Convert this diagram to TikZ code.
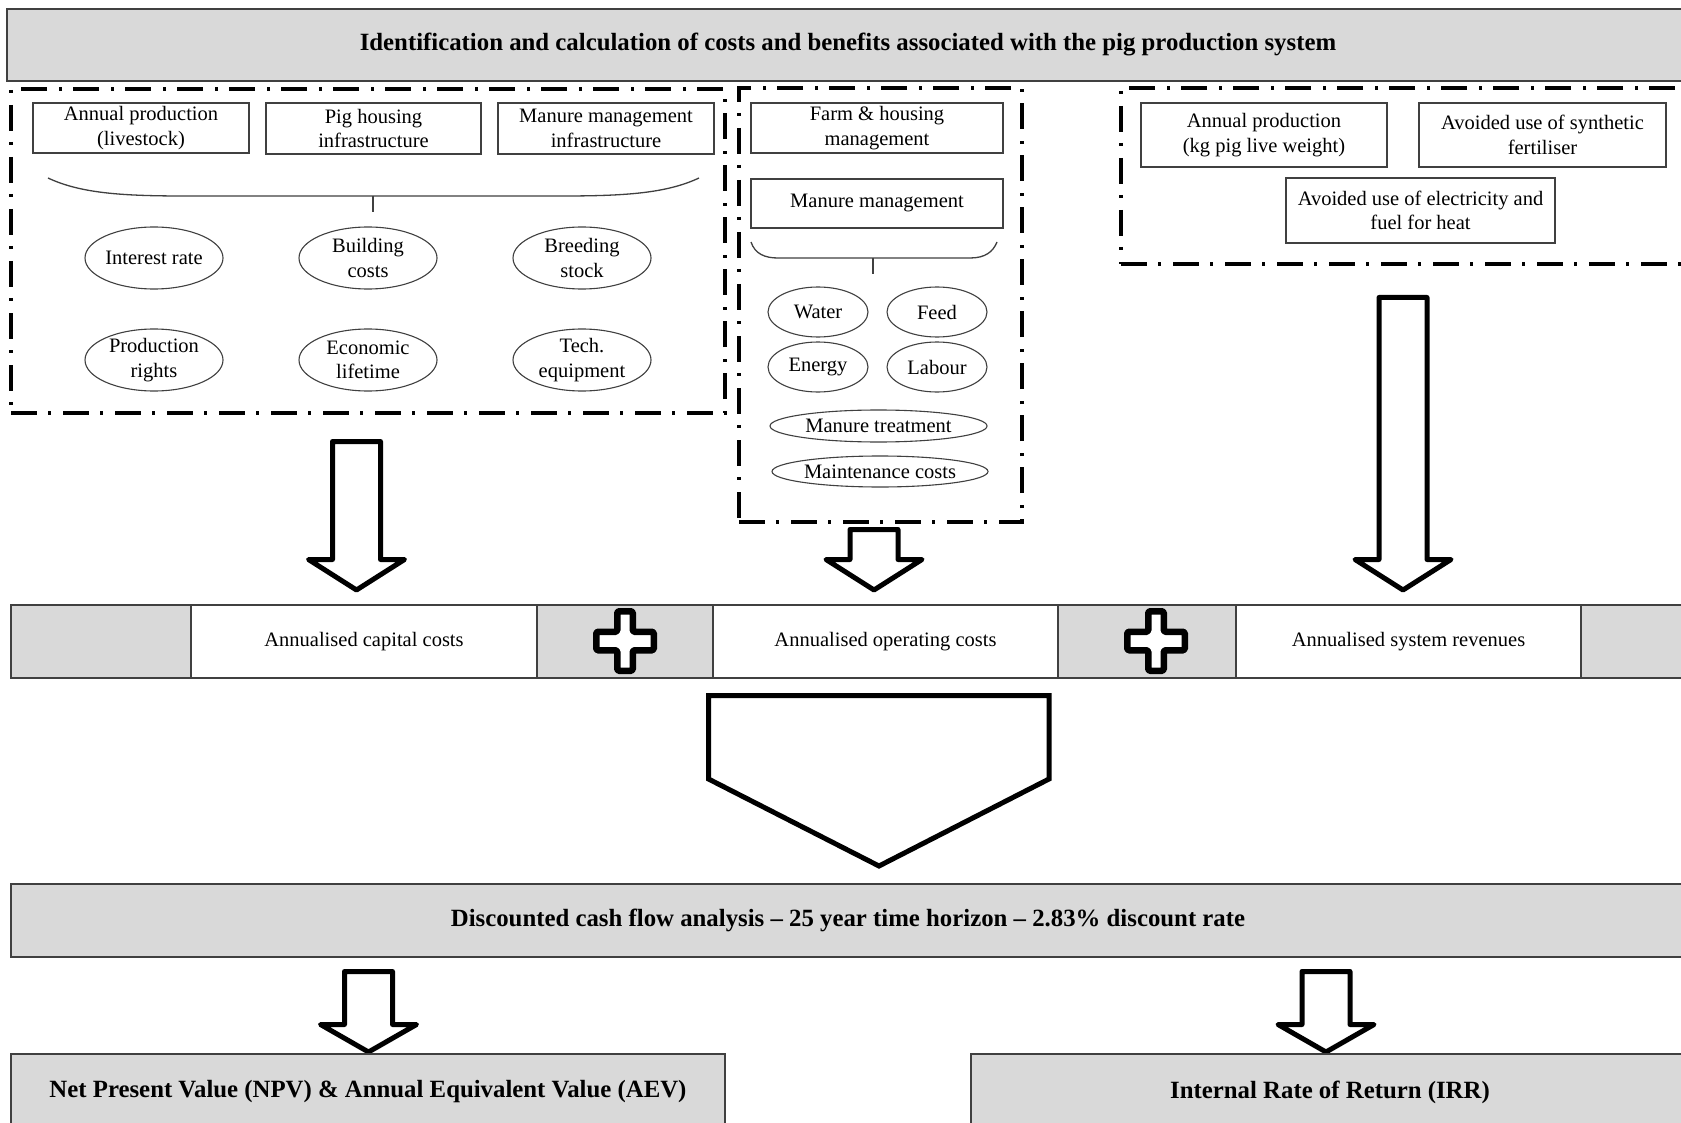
\documentclass[tikz,border=0pt]{standalone}
\usepackage{fontspec}
\setmainfont{Liberation Serif}
\usetikzlibrary{shapes.geometric}

\definecolor{bandgrey}{HTML}{D9D9D9}
\definecolor{edgegrey}{HTML}{404040}

\tikzset{
  every node/.style={font=\fontsize{20.5}{24.5}\selectfont, text=black},
  itembox/.style={draw=edgegrey, line width=1.3pt, fill=white, rectangle, inner sep=0pt, align=center},
  factor/.style={draw=edgegrey, line width=1.1pt, ellipse, inner sep=0pt, align=center},
  groupframe/.style={draw=black, line width=3.5pt, dash pattern=on 26pt off 11pt on 3pt off 12pt, rectangle, inner sep=0pt},
  greyband/.style={draw=edgegrey, line width=1.4pt, fill=bandgrey, rectangle, inner sep=0pt, align=center},
  heading/.style={font=\fontsize{24.8}{29}\selectfont\bfseries},
  sumbox/.style={draw=edgegrey, line width=1.4pt, fill=white, rectangle, inner sep=0pt},
  arrowbody/.style={draw=black, line width=5pt, fill=white, line join=round},
  plusbody/.style={draw=black, line width=6.5pt, fill=white, line join=round},
  bracestroke/.style={draw=edgegrey, line width=1.3pt},
}

% hollow block arrow pointing down: centre x, top, head base, tip
\newcommand{\downblock}[4]{%
  \draw[arrowbody] (#1-24,#2) -- (#1+24,#2) -- (#1+24,#3) -- (#1+48,#3) -- (#1,#4)
    -- (#1-48,#3) -- (#1-24,#3) -- cycle;}
% hollow plus sign: centre x, centre y
\newcommand{\hollowplus}[2]{%
  \draw[plusbody, rounded corners=1.5pt] (#1-7.75,#2-29.75) -- (#1+7.75,#2-29.75) -- (#1+7.75,#2-9.25)
    -- (#1+28.75,#2-9.25) -- (#1+28.75,#2+9.25) -- (#1+7.75,#2+9.25) -- (#1+7.75,#2+29.75) -- (#1-7.75,#2+29.75)
    -- (#1-7.75,#2+9.25) -- (#1-28.75,#2+9.25) -- (#1-28.75,#2-9.25) -- (#1-7.75,#2-9.25) -- cycle;}

\begin{document}
\begin{tikzpicture}[x=1pt, y=-1pt]
\clip (0,0) rectangle (1681,1123);
\fill[white] (0,0) rectangle (1681,1123);

% heading bar
\node[greyband, heading, minimum width=1682, minimum height=72] (topbar) at (848,45)
  {Identification and calculation of costs and benefits associated with the pig production system};

% ---------- capital cost group ----------
\node[groupframe, minimum width=714, minimum height=324] (capframe) at (368,251) {};
\node[itembox, minimum width=216, minimum height=50] (prodlive) at (141,128) {Annual production\\(livestock)};
\node[itembox, minimum width=215, minimum height=51] (housing) at (373.5,128.5) {Pig housing\\infrastructure};
\node[itembox, minimum width=216, minimum height=51] (manureinfra) at (606,128.5) {Manure management\\infrastructure};
\draw[bracestroke] (48,178) .. controls (80,193) and (120,196) .. (185,196) -- (562,196)
  .. controls (627,196) and (667,193) .. (699,178);
\coordinate (capbrace) at (373,196);
\draw[bracestroke] (capbrace) -- ++(0,16);
\node[factor, minimum width=138, minimum height=62] (interest) at (154,258) {Interest rate};
\node[factor, minimum width=138, minimum height=62] (building) at (368,258) {Building\\costs};
\node[factor, minimum width=138, minimum height=62] (breeding) at (582,258) {Breeding\\stock};
\node[factor, minimum width=138, minimum height=62] (rights) at (154,360) {Production\\rights};
\node[factor, minimum width=138, minimum height=62] (lifetime) at (368,360) {Economic\\lifetime};
\node[factor, minimum width=138, minimum height=62] (equipment) at (582,360) {Tech.\\equipment};

% ---------- operating cost group ----------
\node[groupframe, minimum width=283, minimum height=434] (opframe) at (880.5,305) {};
\node[itembox, minimum width=252, minimum height=50] (farmmgmt) at (877,128) {Farm \& housing\\management};
\node[itembox, minimum width=252, minimum height=49] (manuremgmt) at (877,203.5) {Manure management};
\draw[bracestroke] (751,242) .. controls (755,254) and (765,258) .. (778,258) -- (970,258)
  .. controls (985,258) and (993,252) .. (997,242);
\coordinate (opbrace) at (873,258);
\draw[bracestroke] (opbrace) -- ++(0,16);
\node[factor, minimum width=100, minimum height=50] (water) at (818,312) {Water};
\node[factor, minimum width=100, minimum height=50] (feed) at (937,312) {Feed};
\node[factor, minimum width=100, minimum height=50] (energy) at (818,367) {Energy};
\node[factor, minimum width=100, minimum height=50] (labour) at (937,367) {Labour};
\node[factor, minimum width=217, minimum height=32] (treatment) at (878.5,426) {Manure treatment};
\node[factor, minimum width=216, minimum height=31] (maintenance) at (880,471.5) {Maintenance costs};

% ---------- revenue group ----------
\node[groupframe, minimum width=579, minimum height=176] (revframe) at (1410.5,176) {};
\node[itembox, minimum width=246, minimum height=64] (prodkg) at (1264,135) {Annual production\\(kg pig live weight)};
\node[itembox, minimum width=247, minimum height=64] (fertiliser) at (1542.5,135) {Avoided use of synthetic\\fertiliser};
\node[itembox, minimum width=269, minimum height=65] (electricity) at (1420.5,210.5) {Avoided use of electricity and\\fuel for heat};

% ---------- arrows into the annualised terms ----------
\downblock{356.5}{441.5}{559.5}{590}
\downblock{874}{529.5}{559.5}{590}
\downblock{1403}{297.5}{559.5}{590}

% ---------- annualised terms ----------
\node[greyband, minimum width=1689, minimum height=73] (sumband) at (855.5,641.5) {};
\node[sumbox, minimum width=346, minimum height=73] (capcost) at (364,641.5) {Annualised capital costs};
\node[sumbox, minimum width=345, minimum height=73] (opcost) at (885.5,641.5) {Annualised operating costs};
\node[sumbox, minimum width=345, minimum height=73] (revenue) at (1408.5,641.5) {Annualised system revenues};
\hollowplus{625}{641}
\hollowplus{1156}{641}

% ---------- merge into the cash flow analysis ----------
\draw[arrowbody, line join=miter] (708.5,695.5) -- (1049,695.5) -- (1049,779) -- (879,866) -- (708.5,779) -- cycle;

\node[greyband, heading, minimum width=1674, minimum height=73] (dcf) at (848,920.5)
  {Discounted cash flow analysis -- 25 year time horizon -- 2.83\% discount rate};

\downblock{368.5}{971.5}{1024.5}{1052}
\downblock{1326}{971.5}{1024.5}{1052}

% ---------- results ----------
\node[greyband, heading, minimum width=714, minimum height=76] (npv) at (368,1092)
  {Net Present Value (NPV) \& Annual Equivalent Value (AEV)};
\node[greyband, heading, minimum width=718, minimum height=76] (irr) at (1330,1092)
  {Internal Rate of Return (IRR)};
\end{tikzpicture}
\end{document}
